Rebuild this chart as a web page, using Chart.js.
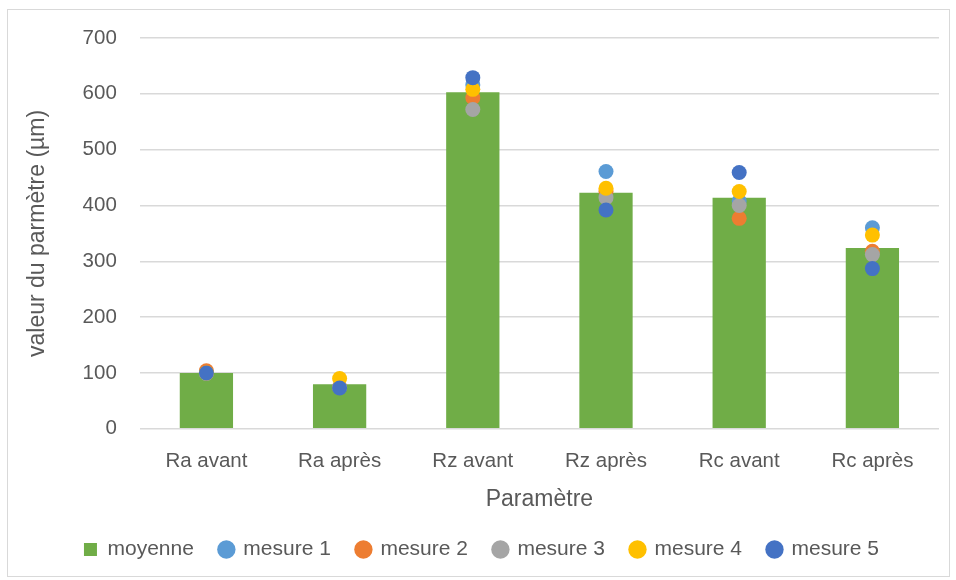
<!DOCTYPE html>
<html>
<head>
<meta charset="utf-8">
<script src="https://cdn.jsdelivr.net/npm/chart.js@4/dist/chart.umd.min.js"></script>
<style>
  html, body { margin: 0; padding: 0; background: #fff; }
  #wrap { position: absolute; left: 7px; top: 9px; width: 941px; height: 566px; border: 1px solid #d9d9d9; }
  #chart { position: absolute; left: 0; top: 0; }
</style>
</head>
<body>
<div id="wrap"></div>
<canvas id="chart" width="956" height="580"></canvas>
<script>
const categories = ["Ra avant", "Ra après", "Rz avant", "Rz après", "Rc avant", "Rc après"];
const moyenne = [100, 80, 603, 423, 414, 324];
const mesure1 = [100, 75, 616, 461, 408, 360];
const mesure2 = [104, 75, 593, 425, 377, 318];
const mesure3 = [99, 74, 572, 414, 400, 312];
const mesure4 = [100, 90, 608, 431, 425, 347];
const mesure5 = [100, 73, 629, 392, 459, 287];
const yTicks = [0, 100, 200, 300, 400, 500, 600, 700];

const measures = [
    { label: "mesure 1", data: mesure1, color: "#5B9BD5" },
    { label: "mesure 2", data: mesure2, color: "#ED7D31" },
    { label: "mesure 3", data: mesure3, color: "#A5A5A5" },
    { label: "mesure 4", data: mesure4, color: "#FFC000" },
    { label: "mesure 5", data: mesure5, color: "#4472C4" }
];

const font = "'Liberation Sans', Arial, sans-serif";
const grey = "#595959";

// later measures are drawn over earlier ones
const pointSets = measures.map((m, index) => {
    return {
        type: "line",
        label: m.label,
        data: m.data,
        showLine: false,
        pointStyle: "circle",
        pointRadius: 7.5,
        pointHoverRadius: 7.5,
        pointBorderWidth: 0,
        backgroundColor: m.color,
        borderColor: m.color,
        order: measures.length - index
    };
});

const config = {
    type: "bar",
    data: {
        labels: categories,
        datasets: [
            {
                label: "moyenne",
                data: moyenne,
                backgroundColor: "#70AD47",
                pointStyle: "rect",
                categoryPercentage: 1,
                barPercentage: 0.4,
                order: 10
            },
            ...pointSets
        ]
    },
    options: {
        responsive: false,
        animation: false,
        layout: { padding: { left: 24, right: 17, top: 38, bottom: 10 } },
        plugins: {
            tooltip: { enabled: false },
            legend: {
                position: "bottom",
                labels: {
                    usePointStyle: true,
                    boxWidth: 13,
                    boxHeight: 13,
                    padding: 26,
                    color: grey,
                    font: { family: font, size: 21 },
                    sort: (a, b) => a.datasetIndex - b.datasetIndex
                }
            }
        },
        scales: {
            x: {
                grid: { display: false },
                border: { display: false },
                ticks: { color: grey, font: { family: font, size: 20.5 }, padding: 12 },
                title: {
                    display: true,
                    text: "Paramètre",
                    color: grey,
                    font: { family: font, size: 23 },
                    padding: { top: 0, bottom: 0 }
                }
            },
            y: {
                min: 0,
                max: 700,
                afterBuildTicks: (axis) => {
                    axis.ticks = yTicks.map((v) => ({ value: v }));
                },
                grid: { color: "#d9d9d9", lineWidth: 1.5, drawTicks: false },
                border: { display: false },
                ticks: { color: grey, font: { family: font, size: 20.5 }, padding: 23 },
                title: {
                    display: true,
                    text: "valeur du parmètre (µm)",
                    color: grey,
                    font: { family: font, size: 23 },
                    padding: { top: 0, bottom: 8 }
                }
            }
        }
    }
};

new Chart(document.getElementById("chart"), config);
</script>
</body>
</html>
